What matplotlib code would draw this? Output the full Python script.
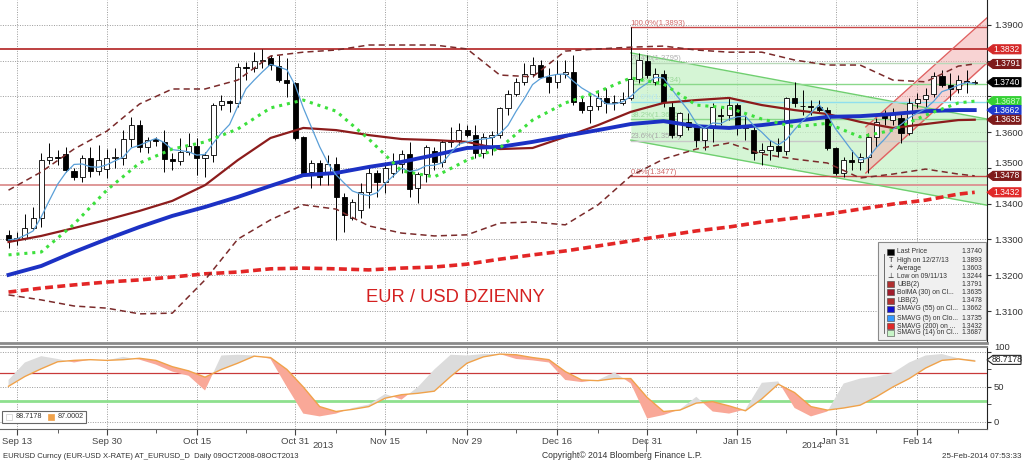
import matplotlib
matplotlib.use('Agg')
import matplotlib.pyplot as plt
from matplotlib.patches import Polygon, Rectangle
import numpy as np
import pandas as pd

plt.rcParams['font.family'] = ['Liberation Sans', 'DejaVu Sans']

# ---- data --------------------------------------------------------------
days = pd.bdate_range('2013-09-12', '2014-02-25')

opens = [1.3313, 1.3299, 1.3304, 1.3332, 1.3360, 1.3522, 1.3531, 1.3540, 1.3492, 1.3475,
         1.3528, 1.3492, 1.3497, 1.3528, 1.3528, 1.3581, 1.3620, 1.3559, 1.3581, 1.3573,
         1.3525, 1.3520, 1.3545, 1.3562, 1.3528, 1.3536, 1.3676, 1.3687, 1.3682, 1.3782,
         1.3779, 1.3799, 1.3808, 1.3785, 1.3746, 1.3738, 1.3587, 1.3489, 1.3514, 1.3486,
         1.3511, 1.3419, 1.3360, 1.3383, 1.3433, 1.3486, 1.3461, 1.3486, 1.3511, 1.3539,
         1.3444, 1.3483, 1.3548, 1.3517, 1.3573, 1.3578, 1.3606, 1.3592, 1.3542, 1.3587,
         1.3592, 1.3668, 1.3707, 1.3741, 1.3763, 1.3788, 1.3754, 1.3741, 1.3763, 1.3769,
         1.3685, 1.3662, 1.3673, 1.3696, 1.3682, 1.3682, 1.3696, 1.3749, 1.3799, 1.3741,
         1.3763, 1.3671, 1.3592, 1.3629, 1.3615, 1.3578, 1.3612, 1.3648, 1.3648, 1.3676,
         1.3612, 1.3606, 1.3545, 1.3550, 1.3562, 1.3548, 1.3696, 1.3673, 1.3673, 1.3671,
         1.3662, 1.3556, 1.3486, 1.3522, 1.3517, 1.3531, 1.3587, 1.3651, 1.3634, 1.3640,
         1.3598, 1.3682, 1.3693, 1.3707, 1.3757, 1.3732, 1.3721, 1.3743, 1.3738]
highs = [1.3327, 1.3320, 1.3370, 1.3390, 1.3542, 1.3570, 1.3550, 1.3559, 1.3500, 1.3536,
         1.3559, 1.3564, 1.3553, 1.3556, 1.3606, 1.3643, 1.3634, 1.3587, 1.3587, 1.3606,
         1.3542, 1.3584, 1.3598, 1.3584, 1.3545, 1.3682, 1.3704, 1.3690, 1.3794, 1.3796,
         1.3824, 1.3833, 1.3816, 1.3816, 1.3808, 1.3740, 1.3590, 1.3522, 1.3522, 1.3536,
         1.3531, 1.3430, 1.3413, 1.3458, 1.3503, 1.3494, 1.3517, 1.3542, 1.3550, 1.3573,
         1.3489, 1.3564, 1.3559, 1.3578, 1.3615, 1.3626, 1.3620, 1.3620, 1.3598, 1.3603,
         1.3671, 1.3718, 1.3752, 1.3794, 1.3810, 1.3802, 1.3780, 1.3802, 1.3802, 1.3816,
         1.3699, 1.3704, 1.3718, 1.3724, 1.3704, 1.3713, 1.3893, 1.3822, 1.3816, 1.3780,
         1.3774, 1.3685, 1.3657, 1.3654, 1.3620, 1.3620, 1.3682, 1.3671, 1.3696, 1.3682,
         1.3648, 1.3615, 1.3570, 1.3578, 1.3584, 1.3699, 1.3741, 1.3718, 1.3690, 1.3690,
         1.3671, 1.3559, 1.3531, 1.3550, 1.3542, 1.3598, 1.3640, 1.3662, 1.3668, 1.3654,
         1.3696, 1.3710, 1.3724, 1.3769, 1.3774, 1.3766, 1.3760, 1.3774, 1.3746]
lows = [1.3276, 1.3285, 1.3299, 1.3327, 1.3335, 1.3510, 1.3508, 1.3489, 1.3466, 1.3461,
        1.3475, 1.3480, 1.3472, 1.3500, 1.3508, 1.3559, 1.3545, 1.3542, 1.3562, 1.3489,
        1.3494, 1.3508, 1.3536, 1.3480, 1.3475, 1.3517, 1.3662, 1.3657, 1.3671, 1.3746,
        1.3768, 1.3779, 1.3774, 1.3740, 1.3699, 1.3578, 1.3480, 1.3444, 1.3452, 1.3452,
        1.3299, 1.3321, 1.3355, 1.3360, 1.3388, 1.3419, 1.3430, 1.3475, 1.3486, 1.3419,
        1.3402, 1.3461, 1.3494, 1.3503, 1.3559, 1.3564, 1.3587, 1.3528, 1.3528, 1.3536,
        1.3584, 1.3648, 1.3701, 1.3732, 1.3754, 1.3752, 1.3710, 1.3724, 1.3752, 1.3676,
        1.3654, 1.3626, 1.3662, 1.3654, 1.3662, 1.3676, 1.3690, 1.3738, 1.3752, 1.3732,
        1.3671, 1.3584, 1.3587, 1.3606, 1.3559, 1.3550, 1.3573, 1.3620, 1.3634, 1.3592,
        1.3578, 1.3522, 1.3508, 1.3522, 1.3531, 1.3536, 1.3671, 1.3648, 1.3648, 1.3654,
        1.3550, 1.3480, 1.3475, 1.3494, 1.3494, 1.3486, 1.3559, 1.3620, 1.3620, 1.3570,
        1.3592, 1.3668, 1.3671, 1.3699, 1.3727, 1.3690, 1.3710, 1.3710, 1.3735]
closes = [1.3299, 1.3304, 1.3332, 1.3360, 1.3522, 1.3531, 1.3528, 1.3494, 1.3475, 1.3528,
          1.3492, 1.3522, 1.3528, 1.3530, 1.3581, 1.3620, 1.3559, 1.3578, 1.3575, 1.3525,
          1.3520, 1.3545, 1.3562, 1.3528, 1.3536, 1.3676, 1.3687, 1.3682, 1.3782, 1.3779,
          1.3799, 1.3802, 1.3788, 1.3746, 1.3738, 1.3584, 1.3486, 1.3514, 1.3475, 1.3511,
          1.3419, 1.3369, 1.3405, 1.3433, 1.3486, 1.3461, 1.3500, 1.3511, 1.3539, 1.3441,
          1.3483, 1.3559, 1.3517, 1.3573, 1.3578, 1.3606, 1.3592, 1.3542, 1.3587, 1.3592,
          1.3668, 1.3707, 1.3741, 1.3763, 1.3788, 1.3754, 1.3741, 1.3763, 1.3769, 1.3685,
          1.3662, 1.3673, 1.3696, 1.3682, 1.3682, 1.3693, 1.3749, 1.3802, 1.3760, 1.3763,
          1.3685, 1.3592, 1.3654, 1.3615, 1.3578, 1.3612, 1.3671, 1.3645, 1.3676, 1.3612,
          1.3620, 1.3542, 1.3550, 1.3562, 1.3548, 1.3696, 1.3682, 1.3673, 1.3671, 1.3662,
          1.3556, 1.3486, 1.3522, 1.3517, 1.3531, 1.3587, 1.3629, 1.3640, 1.3654, 1.3598,
          1.3682, 1.3693, 1.3704, 1.3757, 1.3732, 1.3721, 1.3746, 1.3740, 1.3740]

# indicator values, sampled every 4 trading days
ma_idx = [0, 4, 8, 12, 16, 20, 24, 28, 32, 36, 40, 44, 48, 52, 56, 60,
          64, 68, 72, 76, 80, 84, 88, 92, 96, 100, 104, 108, 112, 116, 118]
sma55 = [1.3201, 1.3226, 1.3265, 1.3301, 1.3335, 1.3366, 1.3391, 1.3419, 1.3450, 1.3480,
         1.3486, 1.3503, 1.3517, 1.3536, 1.3556, 1.3559, 1.3573, 1.3590, 1.3606, 1.3623,
         1.3631, 1.3617, 1.3612, 1.3620, 1.3631, 1.3643, 1.3645, 1.3651, 1.3659, 1.3662, 1.3662]
bol_mid = [1.3293, 1.3310, 1.3332, 1.3355, 1.3380, 1.3408, 1.3452, 1.3522, 1.3584, 1.3612,
           1.3606, 1.3592, 1.3581, 1.3578, 1.3573, 1.3553, 1.3556, 1.3587, 1.3620, 1.3657,
           1.3682, 1.3690, 1.3696, 1.3676, 1.3662, 1.3651, 1.3629, 1.3612, 1.3623, 1.3634, 1.3635]
bol_up = [1.3438, 1.3489, 1.3553, 1.3603, 1.3679, 1.3721, 1.3721, 1.3746, 1.3813, 1.3824,
          1.3830, 1.3844, 1.3844, 1.3844, 1.3833, 1.3760, 1.3755, 1.3827, 1.3833, 1.3838,
          1.3841, 1.3830, 1.3824, 1.3824, 1.3802, 1.3788, 1.3788, 1.3746, 1.3741, 1.3785, 1.3791]
bol_lo = [1.3145, 1.3131, 1.3114, 1.3108, 1.3092, 1.3094, 1.3187, 1.3301, 1.3355, 1.3397,
          1.3385, 1.3338, 1.3318, 1.3310, 1.3313, 1.3346, 1.3349, 1.3341, 1.3397, 1.3478,
          1.3525, 1.3553, 1.3570, 1.3539, 1.3525, 1.3514, 1.3472, 1.3483, 1.3497, 1.3483, 1.3478]
sma200 = [1.3153, 1.3164, 1.3173, 1.3181, 1.3187, 1.3195, 1.3204, 1.3209, 1.3218, 1.3220,
          1.3218, 1.3215, 1.3220, 1.3223, 1.3231, 1.3245, 1.3257, 1.3268, 1.3282, 1.3296,
          1.3310, 1.3324, 1.3335, 1.3349, 1.3360, 1.3371, 1.3385, 1.3399, 1.3410, 1.3427, 1.3432]
sma14 = [1.3257, 1.3265, 1.3343, 1.3438, 1.3514, 1.3553, 1.3573, 1.3609, 1.3668, 1.3690,
         1.3659, 1.3581, 1.3492, 1.3475, 1.3522, 1.3556, 1.3634, 1.3682, 1.3713, 1.3752,
         1.3735, 1.3676, 1.3668, 1.3637, 1.3615, 1.3625, 1.3587, 1.3606, 1.3648, 1.3682, 1.3687]

# stochastic oscillator, sampled every 2 trading days
osc_idx = list(range(0, 119, 2))
stoch_k = [60, 85, 94, 90, 85, 89, 88, 93, 89, 82, 72, 66, 45, 95, 96, 95, 90, 50, 12, 8,
           12, 20, 25, 40, 32, 50, 75, 96, 95, 97, 97, 90, 88, 85, 60, 57, 60, 71, 55, 5,
           10, 18, 36, 15, 12, 18, 56, 58, 20, 8, 15, 55, 62, 65, 70, 85, 95, 97, 91, 88.7]
stoch_d = [51, 65, 76, 86, 88, 89, 88, 89, 91, 88, 79, 73, 64, 75, 84, 94, 92, 75, 50, 22,
           15, 18, 22, 34, 39, 41, 44, 65, 84, 93, 97, 96, 92, 89, 72, 60, 59, 62, 62, 35,
           15, 17, 27, 29, 23, 16, 33, 54, 42, 22, 17, 20, 24, 36, 50, 62, 77, 88, 90, 87]

tick_dates = ['2013-09-13', '2013-09-30', '2013-10-15', '2013-10-31', '2013-11-15', '2013-11-29',
              '2013-12-16', '2013-12-31', '2014-01-15', '2014-01-31', '2014-02-14']
tick_labels = ['Sep 13', 'Sep 30', 'Oct 15', 'Oct 31', 'Nov 15', 'Nov 29',
               'Dec 16', 'Dec 31', 'Jan 15', 'Jan 31', 'Feb 14']
minor_idx = [6, 18, 29, 40, 51, 62, 72, 84, 95, 106, 116]

price_ticks = [1.31, 1.32, 1.33, 1.34, 1.35, 1.36, 1.37, 1.38, 1.39]
price_tick_labels = ['1.3100', '1.3200', '1.3300', '1.3400', '1.3500', '1.3600', '', '', '1.3900']

fib_names = ['100.0%', '76.4%', '61.8%', '50.0%', '38.2%', '23.6%', '0.0%']
fib_prices = [1.3893, 1.3795, 1.3734, 1.3685, 1.3636, 1.3575, 1.3477]
fib_colors = ['#c84848', '#b8d8b8', '#8ad88a', '#8fe0ee', '#8ad88a', '#c8c8c8', '#c84848']
fib_text_colors = ['#d06a6a', '#b0b0b0', '#9ad89a', '#b8e8f0', '#9ad89a', '#a8a8a8', '#d06a6a']

# channels: (start idx, end idx) and prices of both edges
down_ch_x = [76, 119.5]
down_ch_top = [1.3822, 1.3637]
down_ch_bot = [1.3578, 1.3396]
up_ch_x = [104.7, 119.5]
up_ch_top = [1.3615, 1.3920]
up_ch_bot = [1.3486, 1.3794]

hline_top = 1.3832
hline_low = 1.3452

price_tags = [(1.3832, '#d42828', 'white'), (1.3791, '#7e1a1a', 'white'),
              (1.3740, '#000000', 'white'), (1.3687, '#35d035', '#c8ffc8'),
              (1.3662, '#1f3bd0', 'white'), (1.3635, '#7e1a1a', 'white'),
              (1.3478, '#7e1a1a', 'white'), (1.3432, '#e02828', 'white')]

legend_rows = [('Last Price', '1.3740'), ('High on 12/27/13', '1.3893'), ('Average', '1.3603'),
               ('Low on 09/11/13', '1.3244'), ('UBB(2)', '1.3791'), ('BolMA (30) on Cl...', '1.3635'),
               ('LBB(2)', '1.3478'), ('SMAVG (55) on Cl...', '1.3662'), ('SMAVG (5) on Clo...', '1.3735'),
               ('SMAVG (200) on ...', '1.3432'), ('SMAVG (14) on Cl...', '1.3687')]

# ---- figure --------------------------------------------------------------
W, H = 1023, 462
fig = plt.figure(figsize=(W / 100, H / 100), dpi=100)
fig.patch.set_facecolor('white')

def fxy(px, py):
    return px / W, 1 - py / H

ax = fig.add_axes([0, 1 - 343 / H, 987 / W, 343 / H])
ax2 = fig.add_axes([0, 1 - 429 / H, 987 / W, 82 / H])

x = np.arange(len(days))
o = np.array(opens); h = np.array(highs); l = np.array(lows); c = np.array(closes)
tick_pos = days.get_indexer(pd.to_datetime(tick_dates))

for a in (ax, ax2):
    a.set_xlim(-1.04, 119.5)
    a.set_xticks(tick_pos)
    a.set_xticks(minor_idx, minor=True)
    a.grid(True, which='major', ls=(0, (1, 1.5)), color='#9a9a9a', lw=0.7)
    a.set_axisbelow(True)
    a.yaxis.tick_right()
    a.tick_params(axis='y', which='both', direction='out', length=3, colors='#333333',
                  labelsize=6.8, pad=2)
    for s in ('left', 'top'):
        a.spines[s].set_visible(False)
    a.spines['right'].set_color('#222222')
    a.spines['bottom'].set_color('#666666')

ax.set_ylim(1.30105, 1.39699)
ax.set_yticks(price_ticks)
ax.set_yticklabels(price_tick_labels)
ax.tick_params(axis='x', which='both', length=0, labelbottom=False)
ax.spines['bottom'].set_linewidth(2)
ax.spines['bottom'].set_color('#8a8a8a')

# horizontal lines and channels
ax.axhline(hline_top, color='#b83232', lw=1.3, zorder=2)
ax.axhline(hline_low, color='#dc9090', lw=1.3, zorder=2)
ax.fill_between(down_ch_x, down_ch_bot, down_ch_top, color='#c8f2c8', alpha=0.75, lw=0, zorder=1)
ax.plot(down_ch_x, down_ch_top, color='#6fcf6f', lw=1, zorder=2)
ax.plot(down_ch_x, down_ch_bot, color='#6fcf6f', lw=1, zorder=2)
ax.fill_between(up_ch_x, up_ch_bot, up_ch_top, color='#f4b0b0', alpha=0.55, lw=0, zorder=1.1)
ax.plot(up_ch_x, up_ch_top, color='#e06262', lw=1, zorder=2)
ax.plot(up_ch_x, up_ch_bot, color='#e06262', lw=1, zorder=2)

for name, p, lc, tc in zip(fib_names, fib_prices, fib_colors, fib_text_colors):
    ax.plot([76, 119.5], [p, p], color=lc, lw=1, zorder=2)
    ax.text(76, p + 0.0002, '%s(%.4f)' % (name, p), color=tc, fontsize=5.6,
            va='bottom', ha='left', zorder=2.5)

# candles
up = c >= o
bot = np.minimum(o, c)
hgt = np.maximum(np.abs(c - o), 0.00012)
ax.vlines(x, l, h, color='black', lw=0.7, zorder=3)
ax.bar(x[up], hgt[up], bottom=bot[up], width=0.62, color='white', edgecolor='black',
       lw=0.6, zorder=3.2)
ax.bar(x[~up], hgt[~up], bottom=bot[~up], width=0.62, color='black', edgecolor='black',
       lw=0.6, zorder=3.2)

# indicators
sma5 = pd.Series(closes).rolling(5, min_periods=1).mean()
ax.plot(ma_idx, sma200, color='#e32626', lw=2.6, ls=(0, (2.2, 1.2)), zorder=4)
ax.plot(ma_idx, bol_up, color='#7b2b2b', lw=1.1, ls=(0, (4, 2.7)), zorder=4)
ax.plot(ma_idx, bol_lo, color='#7b2b2b', lw=1.1, ls=(0, (4, 2.7)), zorder=4)
ax.plot(ma_idx, bol_mid, color='#8c1c1c', lw=1.6, zorder=4.1)
ax.plot(ma_idx, sma55, color='#1c31c4', lw=2.8, zorder=4.2)
ax.plot(x, sma5, color='#5a9fd8', lw=0.9, zorder=4.3)
ax.plot(ma_idx, sma14, color='#3de03d', lw=2.2, ls=(0, (1, 1.6)), zorder=4.4)

ax.text(43.6, 1.3139, 'EUR / USD DZIENNY', color='#d42020', fontsize=13.2, ha='left', va='center')

# lower panel
ax2.set_ylim(-10, 107.1)
ax2.set_yticks([0, 50, 100])
ax2.set_yticks([25, 75], minor=True)
ax2.tick_params(axis='x', which='major', direction='out', length=4, colors='#444444',
                labelsize=6.8, pad=1.5)
ax2.tick_params(axis='x', which='minor', direction='out', length=3, colors='#444444')
ax2.set_xticklabels(tick_labels)
ax2.grid(True, which='major', axis='y', ls=(0, (1, 1.5)), color='#9a9a9a', lw=0.7)
ax2.spines['top'].set_visible(True)
ax2.spines['top'].set_color('#8a8a8a')
ax2.spines['top'].set_linewidth(1.5)
ax2.axhline(70, color='#c83a3a', lw=0.9, zorder=2)
ax2.axhline(30, color='#8ee08e', lw=2, zorder=2)
k = np.array(stoch_k, dtype=float); d = np.array(stoch_d, dtype=float)
ax2.fill_between(osc_idx, k, d, where=k >= d, interpolate=True, color='#dcdcdc', lw=0, zorder=2.2)
ax2.fill_between(osc_idx, k, d, where=k < d, interpolate=True, color='#f9a898', lw=0, zorder=2.2)
ax2.plot(osc_idx, d, color='#f0a24a', lw=1, zorder=3)

# tick labels that sit right above a price tag are lifted a little, as on the screen
for t, loc in zip(ax.yaxis.get_major_ticks(), price_ticks):
    if loc == 1.35:
        t.label2.set_verticalalignment('bottom')
for t, loc in zip(ax2.yaxis.get_major_ticks(), [0, 50, 100]):
    if loc == 100:
        t.label2.set_verticalalignment('bottom')

# price tags on the right axis
tr = fig.transFigure.inverted()
def tag(axis, value, text, fc, tc, ec=None):
    yd = axis.transData.transform((0, value))[1]
    yf = tr.transform((0, yd))[1]
    hh = 4.5 / H
    x0, x1, x2 = 987 / W, 993 / W, 1021 / W
    pts = [(x0, yf), (x1, yf + hh), (x2, yf + hh), (x2, yf - hh), (x1, yf - hh)]
    fig.patches.append(Polygon(pts, closed=True, transform=fig.transFigure, fc=fc,
                               ec=ec or fc, lw=0.8, zorder=10))
    fig.text(1007 / W, yf, text, color=tc, fontsize=6.2, ha='center', va='center', zorder=11)

for value, fc, tc in price_tags:
    tag(ax, value, '%.4f' % value, fc, tc)
tag(ax2, 88.7178, '88.7178', 'white', '#222222', ec='#222222')

# legend box, main panel
lx, ly = fxy(878, 340)
fig.patches.append(Rectangle((lx, ly), 108 / W, 98 / H, transform=fig.transFigure,
                             fc='#f0f0f0', ec='#8a8a8a', lw=0.8, zorder=8))
row_y = [252, 260, 268, 276, 284, 292, 301, 309, 318, 326, 333]
icon_colors = ['#000000', None, None, None, '#b03030', '#a01c2c', '#b03030', '#1010d0',
               '#3399ff', '#e02828', '#c8f5c8']
icon_marks = [None, 'T', '+', '\u22a5', None, None, None, None, None, None, None]
fig.lines.append(plt.Line2D([884 / W, 884 / W], [1 - 254 / H, 1 - 333 / H],
                            transform=fig.transFigure, color='#555555', lw=0.6, zorder=9))
for (name, val), yy, ic, im in zip(legend_rows, row_y, icon_colors, icon_marks):
    px, py = fxy(897, yy)
    fig.text(px, py, name, fontsize=4.9, color='#333333', va='center', ha='left', zorder=9)
    fig.text(982 / W, py, val, fontsize=4.9, color='#333333', va='center', ha='right', zorder=9)
    if im is not None:
        fig.text(891 / W, py, im, fontsize=5.2, color='#222222', va='center', ha='center', zorder=9)
    elif ic is not None:
        fig.patches.append(Rectangle((887 / W, py - 3 / H), 7 / W, 6 / H, transform=fig.transFigure,
                                     fc=ic, ec='#444444', lw=0.4, zorder=9))

# legend box, lower panel
fig.patches.append(Rectangle(fxy(2, 423), 84 / W, 12 / H, transform=fig.transFigure,
                             fc='white', ec='#666666', lw=0.8, zorder=8))
fig.patches.append(Rectangle(fxy(6, 420), 6 / W, 6 / H, transform=fig.transFigure,
                             fc='white', ec='#cccccc', lw=0.5, zorder=9))
fig.text(16 / W, 1 - 417 / H, '88.7178', fontsize=5.2, color='#333333', va='center', zorder=9)
fig.patches.append(Rectangle(fxy(48, 420), 6 / W, 6 / H, transform=fig.transFigure,
                             fc='#f0a24a', ec='#f0a24a', lw=0.5, zorder=9))
fig.text(58 / W, 1 - 417 / H, '87.0002', fontsize=5.2, color='#333333', va='center', zorder=9)

# year row, footer
fig.text(323 / W, 1 - 446 / H, '2013', fontsize=6.8, color='#444444', ha='center', va='center')
fig.text(812 / W, 1 - 446 / H, '2014', fontsize=6.8, color='#444444', ha='center', va='center')
fig.lines.append(plt.Line2D([646 / W, 646 / W], [1 - 440 / H, 1 - 451 / H],
                            transform=fig.transFigure, color='#666666', lw=0.6))
fig.text(3 / W, 1 - 456 / H, 'EURUSD Curncy (EUR-USD X-RATE) AT_EURUSD_D  Daily 09OCT2008-08OCT2013',
         fontsize=5.5, color='#333333', va='center', ha='left')
fig.text(542 / W, 1 - 456 / H, 'Copyright\u00a9 2014 Bloomberg Finance L.P.',
         fontsize=6.2, color='#333333', va='center', ha='left')
fig.text(1021 / W, 1 - 456 / H, '25-Feb-2014 07:53:33',
         fontsize=5.8, color='#333333', va='center', ha='right')

fig.savefig('out.png', dpi=100)
